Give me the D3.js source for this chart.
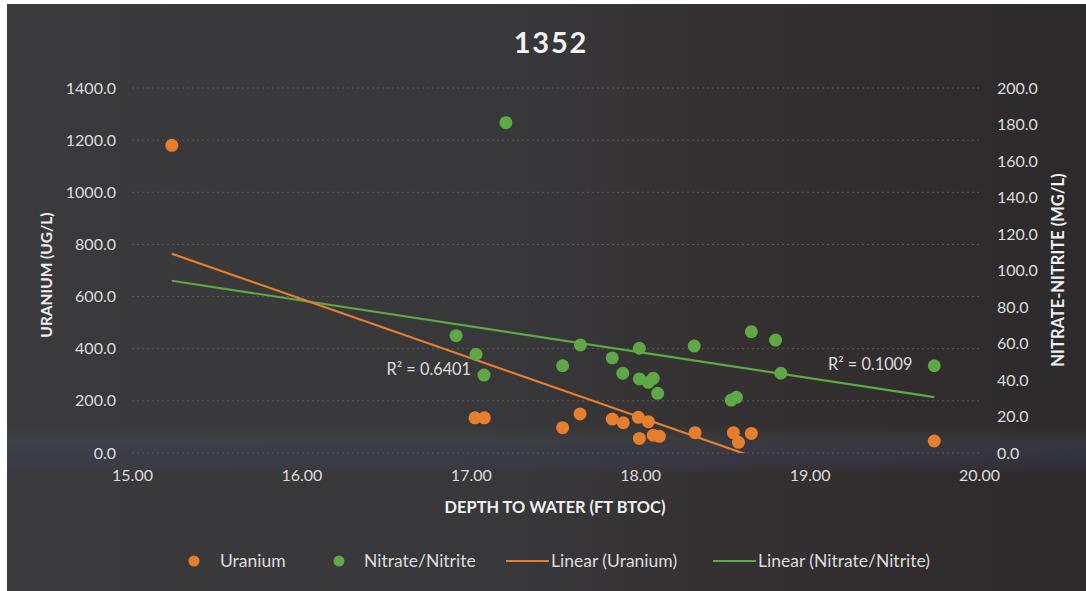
<!DOCTYPE html>
<html>
<head>
<meta charset="utf-8">
<script src="https://cdn.jsdelivr.net/npm/d3@7"></script>
<style>
  html, body { margin: 0; padding: 0; background: #ffffff; }
  svg { display: block; }
  text { font-family: Lato, "Open Sans", sans-serif; }
</style>
</head>
<body>
<svg id="chart" width="1086" height="591"></svg>
<script>
// Well 1352: uranium and nitrate/nitrite against depth to water
const uraniumDepth = [15.235, 17.025, 17.080, 17.542, 17.645, 17.835, 17.900, 17.989, 18.048,
                      17.995, 18.077, 18.113, 18.324, 18.550, 18.580, 18.656, 19.736];
const uraniumValue = [1180, 135, 135, 97, 150, 130, 116, 137, 120,
                      56, 68, 64, 78, 78, 41, 75, 46];

const nitrateDepth = [17.207, 16.913, 17.031, 17.078, 17.542, 17.647, 17.835, 17.897, 17.995, 17.995,
                      18.048, 18.077, 18.103, 18.319, 18.656, 18.799, 18.830, 18.537, 18.568, 19.736];
const nitrateValue = [181, 64.3, 54.1, 42.7, 47.8, 59.2, 52.1, 43.7, 57.4, 40.6,
                      38.7, 40.9, 32.7, 58.6, 66.5, 61.9, 43.7, 29.0, 30.5, 47.8];

const depthTicks = [15, 16, 17, 18, 19, 20];
const uraniumTicks = [0, 200, 400, 600, 800, 1000, 1200, 1400];
const nitrateTicks = [0, 20, 40, 60, 80, 100, 120, 140, 160, 180, 200];

const uraniumR2Label = "R\u00B2 = 0.6401";
const nitrateR2Label = "R\u00B2 = 0.1009";

const titleText = "1352";
const xTitle = "DEPTH TO WATER (FT BTOC)";
const yLeftTitle = "URANIUM (UG/L)";
const yRightTitle = "NITRATE-NITRITE (MG/L)";
const legendLabels = ["Uranium", "Nitrate/Nitrite", "Linear (Uranium)", "Linear (Nitrate/Nitrite)"];

const ORANGE = "#e57f2e";
const GREEN = "#5ea845";
const TICK_COLOR = "#dcdcdc";

const svg = d3.select("#chart");
const plot = { left: 132, right: 979, top: 88, bottom: 453 };

const x = d3.scaleLinear().domain([15, 20]).range([plot.left, plot.right]);
const yL = d3.scaleLinear().domain([0, 1400]).range([plot.bottom, plot.top]);
const yR = d3.scaleLinear().domain([0, 200]).range([plot.bottom, plot.top]);

// background
const defs = svg.append("defs");
const bg = defs.append("linearGradient").attr("id", "bg").attr("x1", "0").attr("x2", "1").attr("y1", "0").attr("y2", "0");
bg.append("stop").attr("offset", "0").attr("stop-color", "#3a3a3c");
bg.append("stop").attr("offset", "0.45").attr("stop-color", "#38383a");
bg.append("stop").attr("offset", "0.7").attr("stop-color", "#342f30");
bg.append("stop").attr("offset", "1").attr("stop-color", "#2d2a2b");
svg.append("rect").attr("x", 7).attr("y", 4).attr("width", 1079).attr("height", 587).attr("fill", "url(#bg)");

// faint horizontal scan bands near the base of the plot
const band = defs.append("linearGradient").attr("id", "band").attr("x1", "0").attr("x2", "0").attr("y1", "0").attr("y2", "1");
band.append("stop").attr("offset", "0").attr("stop-color", "#47525a").attr("stop-opacity", 0);
band.append("stop").attr("offset", "0.3").attr("stop-color", "#47525a").attr("stop-opacity", 0.3);
band.append("stop").attr("offset", "0.7").attr("stop-color", "#3a3c55").attr("stop-opacity", 0.45);
band.append("stop").attr("offset", "1").attr("stop-color", "#47525a").attr("stop-opacity", 0);
svg.append("rect").attr("x", 7).attr("y", 425).attr("width", 1079).attr("height", 48).attr("fill", "url(#band)");

defs.append("clipPath").attr("id", "plotClip").append("rect")
  .attr("x", plot.left).attr("y", plot.top)
  .attr("width", plot.right - plot.left).attr("height", plot.bottom - plot.top);

// gridlines
svg.append("g").selectAll("line").data(uraniumTicks).join("line")
  .attr("x1", plot.left).attr("x2", plot.right)
  .attr("y1", d => yL(d)).attr("y2", d => yL(d))
  .attr("stroke", "#5c5c5e").attr("stroke-width", 1).attr("stroke-dasharray", "2,3");

// axes
const fmt1 = d3.format(".1f");
const fmt2 = d3.format(".2f");

function styleAxis(g) {
  g.select(".domain").remove();
  g.selectAll(".tick line").remove();
  g.selectAll("text").attr("fill", TICK_COLOR).attr("font-size", 16).attr("font-family", "Lato, sans-serif");
}

svg.append("g").attr("transform", `translate(${plot.left},0)`)
  .call(d3.axisLeft(yL).tickValues(uraniumTicks).tickFormat(fmt1).tickSize(0).tickPadding(16))
  .call(styleAxis);

svg.append("g").attr("transform", `translate(${plot.right},0)`)
  .call(d3.axisRight(yR).tickValues(nitrateTicks).tickFormat(fmt1).tickSize(0).tickPadding(18))
  .call(styleAxis);

svg.append("g").attr("transform", `translate(0,${plot.bottom})`)
  .call(d3.axisBottom(x).tickValues(depthTicks).tickFormat(fmt2).tickSize(0).tickPadding(17))
  .call(styleAxis);

// linear trendlines (least squares), drawn across the shared depth range
function linearFit(xs, ys) {
  const mx = d3.mean(xs), my = d3.mean(ys);
  let sxy = 0, sxx = 0;
  xs.forEach((v, i) => { sxy += (v - mx) * (ys[i] - my); sxx += (v - mx) * (v - mx); });
  const slope = sxy / sxx;
  return v => my + slope * (v - mx);
}
const depthExtent = d3.extent(uraniumDepth.concat(nitrateDepth));
const uFit = linearFit(uraniumDepth, uraniumValue);
const nFit = linearFit(nitrateDepth, nitrateValue);

const trend = svg.append("g").attr("clip-path", "url(#plotClip)");
trend.append("line")
  .attr("x1", x(depthExtent[0])).attr("y1", yR(nFit(depthExtent[0])))
  .attr("x2", x(depthExtent[1])).attr("y2", yR(nFit(depthExtent[1])))
  .attr("stroke", GREEN).attr("stroke-width", 2.2);
trend.append("line")
  .attr("x1", x(depthExtent[0])).attr("y1", yL(uFit(depthExtent[0])))
  .attr("x2", x(depthExtent[1])).attr("y2", yL(uFit(depthExtent[1])))
  .attr("stroke", ORANGE).attr("stroke-width", 2.2);

// points
svg.append("g").selectAll("circle").data(nitrateDepth.map((d, i) => [d, nitrateValue[i]])).join("circle")
  .attr("cx", d => x(d[0])).attr("cy", d => yR(d[1])).attr("r", 6.5).attr("fill", GREEN);
svg.append("g").selectAll("circle").data(uraniumDepth.map((d, i) => [d, uraniumValue[i]])).join("circle")
  .attr("cx", d => x(d[0])).attr("cy", d => yL(d[1])).attr("r", 6.5).attr("fill", ORANGE);

// R² labels
svg.append("text").attr("x", 471).attr("y", 369).attr("dy", "0.35em").attr("text-anchor", "end")
  .attr("fill", TICK_COLOR).attr("font-size", 16.3).text(uraniumR2Label);
svg.append("text").attr("x", 828).attr("y", 364).attr("dy", "0.35em")
  .attr("fill", TICK_COLOR).attr("font-size", 16.3).text(nitrateR2Label);

// titles
svg.append("text").attr("x", 551).attr("y", 43).attr("dy", "0.35em").attr("text-anchor", "middle")
  .attr("fill", "#f4f4f4").attr("font-size", 29).attr("font-weight", "bold").attr("letter-spacing", 1.8)
  .text(titleText);
svg.append("text").attr("x", 555).attr("y", 507).attr("dy", "0.35em").attr("text-anchor", "middle")
  .attr("fill", "#f0f0f0").attr("font-size", 16.4).attr("font-weight", "bold").text(xTitle);
svg.append("text").attr("transform", "translate(47,275) rotate(-90)").attr("dy", "0.35em").attr("text-anchor", "middle")
  .attr("fill", "#f0f0f0").attr("font-size", 15.5).attr("font-weight", "bold").text(yLeftTitle);
svg.append("text").attr("transform", "translate(1058,270) rotate(-90)").attr("dy", "0.35em").attr("text-anchor", "middle")
  .attr("fill", "#f0f0f0").attr("font-size", 16.5).attr("font-weight", "bold").text(yRightTitle);

// legend
const legendY = 561;
const legendFont = 17.5;
const lg = svg.append("g");
lg.append("circle").attr("cx", 194).attr("cy", legendY).attr("r", 5.5).attr("fill", ORANGE);
lg.append("text").attr("x", 220).attr("y", legendY).attr("dy", "0.35em").attr("fill", TICK_COLOR).attr("font-size", legendFont).text(legendLabels[0]);
lg.append("circle").attr("cx", 339).attr("cy", legendY).attr("r", 5.5).attr("fill", GREEN);
lg.append("text").attr("x", 364).attr("y", legendY).attr("dy", "0.35em").attr("fill", TICK_COLOR).attr("font-size", legendFont).text(legendLabels[1]);
lg.append("line").attr("x1", 506).attr("x2", 549).attr("y1", legendY).attr("y2", legendY).attr("stroke", ORANGE).attr("stroke-width", 2.2);
lg.append("text").attr("x", 551).attr("y", legendY).attr("dy", "0.35em").attr("fill", TICK_COLOR).attr("font-size", legendFont).text(legendLabels[2]);
lg.append("line").attr("x1", 713).attr("x2", 756).attr("y1", legendY).attr("y2", legendY).attr("stroke", GREEN).attr("stroke-width", 2.2);
lg.append("text").attr("x", 758).attr("y", legendY).attr("dy", "0.35em").attr("fill", TICK_COLOR).attr("font-size", legendFont).text(legendLabels[3]);
</script>
</body>
</html>
